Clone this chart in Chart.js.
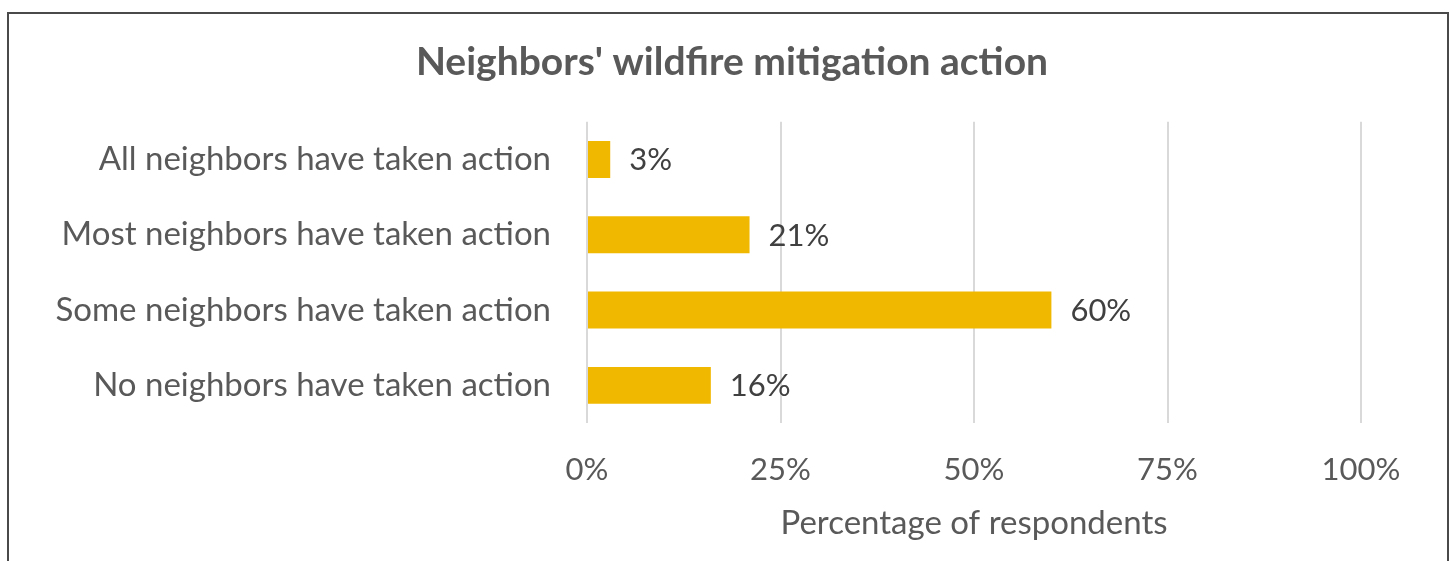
<!DOCTYPE html>
<html>
<head>
<meta charset="utf-8">
<script src="https://cdn.jsdelivr.net/npm/chart.js@4"></script>
<style>
  html, body { margin: 0; padding: 0; background: #fff; overflow: hidden; }
  #wrap { position: relative; width: 1450px; height: 561px; }
  #frame {
    position: absolute; left: 7px; top: 12px; width: 1438px; height: 560px;
    border: 2px solid #4a4a4a; pointer-events: none;
  }
</style>
</head>
<body>
<div id="wrap">
  <canvas id="chart" width="1450" height="561"></canvas>
  <div id="frame"></div>
</div>
<script>
const categories = [
  "All neighbors have taken action",
  "Most neighbors have taken action",
  "Some neighbors have taken action",
  "No neighbors have taken action"
];
const percentages = [3, 21, 60, 16];
const xTicks = [0, 25, 50, 75, 100];

const FONT = "Lato, 'Liberation Sans', sans-serif";

// value labels to the right of each bar
const barLabels = {
  id: "barLabels",
  afterDatasetsDraw(chart) {
    const ctx = chart.ctx;
    const meta = chart.getDatasetMeta(0);
    ctx.save();
    ctx.font = "31px " + FONT;
    ctx.fillStyle = "#404040";
    ctx.textAlign = "left";
    ctx.textBaseline = "middle";
    meta.data.forEach((bar, i) => {
      ctx.fillText(percentages[i] + "%", bar.x + 19, bar.y + 1);
    });
    ctx.restore();
  }
};

new Chart(document.getElementById("chart"), {
  type: "bar",
  data: {
    labels: categories,
    datasets: [{
      data: percentages,
      backgroundColor: "#F1B800",
      borderWidth: 0,
      barPercentage: 0.5,
      categoryPercentage: 0.98
    }]
  },
  options: {
    indexAxis: "y",
    responsive: false,
    animation: false,
    layout: { padding: { left: 14, right: 0, top: 0, bottom: 18 } },
    plugins: {
      legend: { display: false },
      tooltip: { enabled: false },
      title: {
        display: true,
        text: "Neighbors' wildfire mitigation action",
        color: "#595959",
        font: { family: FONT, size: 39, weight: "bold" },
        padding: { top: 39, bottom: 36 }
      }
    },
    scales: {
      x: {
        min: 0,
        max: 100,
        afterBuildTicks(scale) {
          scale.ticks = xTicks.map(v => ({ value: v }));
        },
        afterFit(scale) { scale.height = 120; },
        grid: { color: "#d9d9d9", lineWidth: 2, drawTicks: false },
        border: { display: false },
        ticks: {
          color: "#595959",
          font: { family: FONT, size: 31 },
          padding: 28,
          callback: v => v + "%"
        },
        title: {
          display: true,
          text: "Percentage of respondents",
          color: "#595959",
          font: { family: FONT, size: 33 },
          padding: { top: 0, bottom: 0 }
        }
      },
      y: {
        afterFit(scale) { scale.width = 573; },
        grid: { display: false },
        border: { display: false },
        ticks: {
          color: "#595959",
          font: { family: FONT, size: 33 },
          padding: 28
        }
      },
      // empty right-hand axis keeps the plot clear of the right edge
      // while the title stays centred on the whole canvas
      yRight: {
        position: "right",
        afterFit(scale) { scale.width = 89; },
        grid: { display: false },
        border: { display: false },
        ticks: { display: false }
      }
    }
  },
  plugins: [barLabels]
});
</script>
</body>
</html>
